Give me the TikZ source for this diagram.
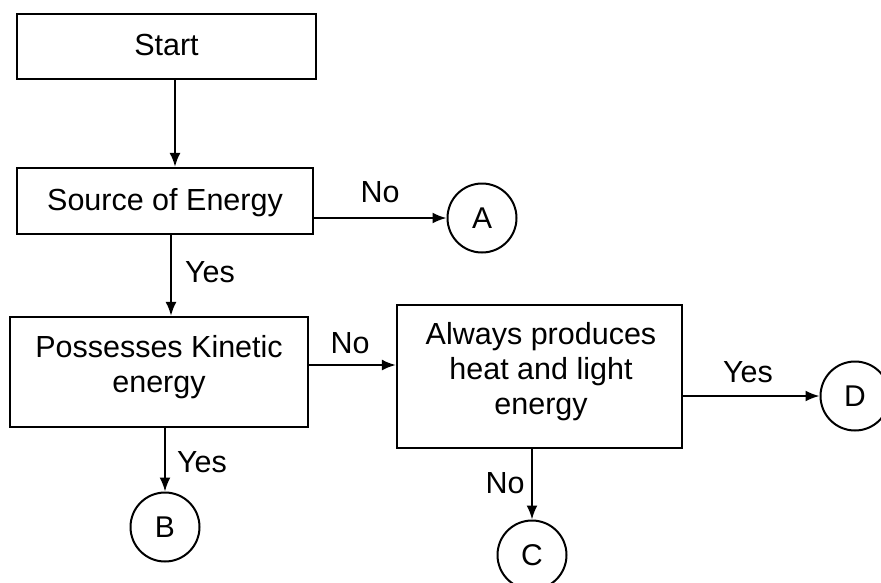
\documentclass[tikz,border=0pt]{standalone}
\usepackage{fontspec}
\setmainfont{Liberation Sans}
\usetikzlibrary{arrows.meta}
\begin{document}
\begin{tikzpicture}[x=1pt,y=-1pt,
  txt/.style={font=\fontsize{30.5}{35}\selectfont, inner sep=0pt, align=center},
  box/.style={draw, line width=2.3pt, minimum width=#1, inner sep=0pt},
  circ/.style={draw, circle, line width=2pt, minimum size=69pt, inner sep=0pt, font=\fontsize{30}{35}\selectfont},
  arr/.style={line width=2pt, -{Latex[length=14pt,width=11pt]}},
  lbl/.style={font=\fontsize{30.5}{35}\selectfont, inner sep=0pt}]
\useasboundingbox (0,0) rectangle (881,582);
% boxes
\node[box=299pt, minimum height=65pt] (start) at (166.5,46.5) {};
\node[txt] (starttxt) at (166.5,45) {Start};
\node[box=296pt, minimum height=66pt] (src) at (165,201) {};
\node[txt] (srctxt) at (165,203) {Source of Energy};
\node[box=298pt, minimum height=110pt] (pos) at (159,372) {};
\node[txt] (postxt) at (159,367) {Possesses Kinetic\\energy};
\node[box=285pt, minimum height=143pt] (alw) at (539.5,376.5) {};
\node[txt] (alwtxt) at (541,372) {Always produces\\heat and light\\energy};
% circles
\node[circ] (A) at (482,218) {A};
\node[circ] (B) at (165,527) {B};
\node[circ] (C) at (532,555) {C};
\node[circ] (D) at (855,396) {D};
% connectors
\draw[arr] ([xshift=8.5pt]start.south) -- ([xshift=8.5pt]start.south |- src.north);
\draw[arr] ([xshift=6pt]src.south) -- ([xshift=6pt]src.south |- pos.north);
\draw[arr] (src.east |- A) -- (A);
\draw[arr] ([yshift=7pt]pos.east) -- ([yshift=7pt]pos.east -| alw.west);
\draw[arr] (pos.south -| B) -- (B);
\draw[arr] (alw.east |- D) -- (D);
\draw[arr] (alw.south -| C) -- (C);
% labels
\node[lbl] (l1) at (380,192) {No};
\node[lbl] (l2) at (210,272) {Yes};
\node[lbl] (l3) at (350,343) {No};
\node[lbl] (l4) at (202,462) {Yes};
\node[lbl] (l5) at (748,372) {Yes};
\node[lbl] (l6) at (505,483) {No};
\end{tikzpicture}
\end{document}
